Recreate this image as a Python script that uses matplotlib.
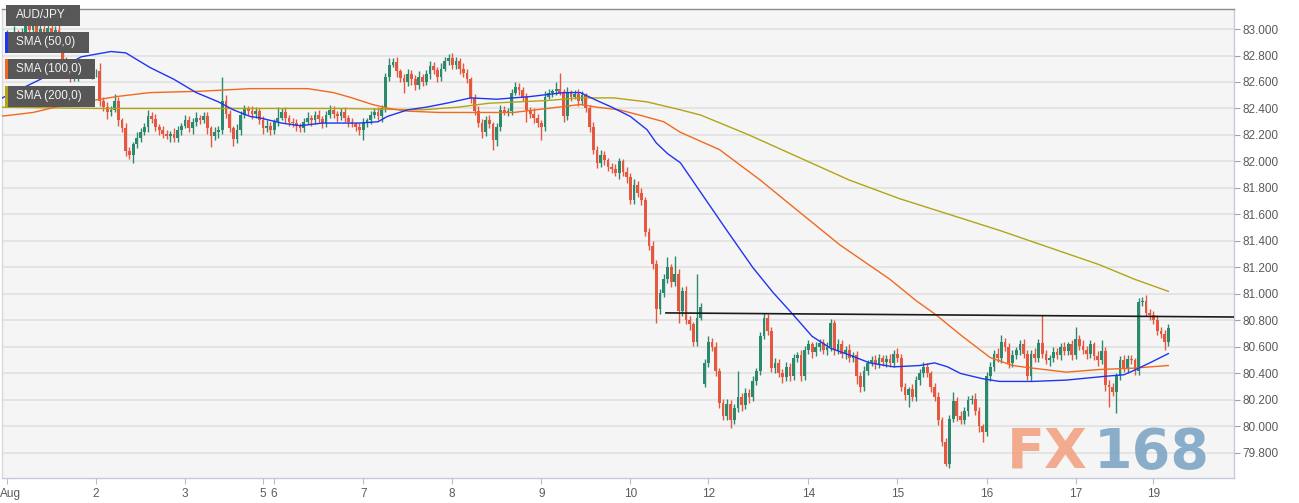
import numpy as np
import matplotlib
matplotlib.use("Agg")
import matplotlib.pyplot as plt
import matplotlib.transforms as mtransforms
from matplotlib.patches import Rectangle

# hourly AUD/JPY closes (one per candle)
closes = [
    82.95, 82.92, 82.97, 82.93, 82.98, 83.02, 82.99, 83.03, 82.98, 83.00,
    82.96, 83.01, 82.97, 82.99, 82.94, 82.76, 82.70, 82.64, 82.66, 82.68,
    82.72, 82.67, 82.65, 82.68, 82.68, 82.46, 82.41, 82.37, 82.39, 82.46,
    82.31, 82.25, 82.08, 82.05, 82.13, 82.18, 82.22, 82.26, 82.34, 82.32,
    82.26, 82.24, 82.21, 82.19, 82.21, 82.18, 82.24, 82.27, 82.31, 82.25,
    82.30, 82.33, 82.31, 82.34, 82.25, 82.19, 82.22, 82.24, 82.46, 82.36,
    82.25, 82.17, 82.24, 82.35, 82.40, 82.38, 82.36, 82.38, 82.31, 82.25,
    82.27, 82.24, 82.30, 82.33, 82.37, 82.33, 82.30, 82.29, 82.27, 82.25,
    82.30, 82.33, 82.31, 82.35, 82.32, 82.29, 82.35, 82.39, 82.36, 82.34,
    82.37, 82.33, 82.30, 82.28, 82.26, 82.24, 82.29, 82.31, 82.35, 82.37,
    82.34, 82.40, 82.64, 82.73, 82.75, 82.68, 82.63, 82.60, 82.66, 82.62,
    82.58, 82.64, 82.60, 82.66, 82.72, 82.69, 82.64, 82.70, 82.76, 82.78,
    82.73, 82.76, 82.70, 82.67, 82.62, 82.48, 82.38, 82.29, 82.22, 82.31,
    82.28, 82.16, 82.26, 82.39, 82.37, 82.38, 82.52, 82.56, 82.54, 82.49,
    82.39, 82.36, 82.33, 82.29, 82.26, 82.49, 82.52, 82.53, 82.55, 82.52,
    82.34, 82.52, 82.49, 82.51, 82.46, 82.50, 82.40, 82.26, 82.09, 81.99,
    82.05, 82.01, 81.96, 81.94, 81.91, 82.00, 81.92, 81.88, 81.71, 81.82,
    81.76, 81.71, 81.47, 81.36, 81.23, 80.89, 81.01, 81.11, 81.20, 81.09,
    81.15, 80.87, 81.02, 80.80, 80.77, 80.64, 80.82, 80.90, 80.48, 80.64,
    80.60, 80.42, 80.18, 80.08, 80.17, 80.05, 80.14, 80.22, 80.16, 80.25,
    80.22, 80.34, 80.42, 80.68, 80.82, 80.72, 80.44, 80.48, 80.40, 80.37,
    80.45, 80.38, 80.52, 80.54, 80.38, 80.58, 80.62, 80.56, 80.60, 80.63,
    80.58, 80.60, 80.78, 80.58, 80.62, 80.55, 80.58, 80.52, 80.54, 80.38,
    80.30, 80.42, 80.48, 80.50, 80.47, 80.52, 80.49, 80.51, 80.48, 80.55,
    80.52, 80.30, 80.24, 80.28, 80.22, 80.35, 80.40, 80.45, 80.40, 80.30,
    80.22, 80.05, 79.88, 79.72, 80.06, 80.19, 80.08, 80.05, 80.12, 80.20,
    80.21, 80.12, 80.00, 79.96, 80.38, 80.45, 80.55, 80.52, 80.64, 80.60,
    80.48, 80.54, 80.58, 80.62, 80.55, 80.38, 80.55, 80.52, 80.63, 80.55,
    80.50, 80.52, 80.56, 80.54, 80.60, 80.57, 80.62, 80.54, 80.66, 80.61,
    80.58, 80.55, 80.62, 80.53, 80.50, 80.57, 80.31, 80.30, 80.26, 80.38,
    80.50, 80.44, 80.51, 80.50, 80.42, 80.94, 80.95, 80.86, 80.84, 80.80,
    80.72, 80.70, 80.64, 80.74,
]
first_open = 82.90
gap_opens = {188: 80.32}  # Sunday open after the weekend gap

# wick lengths above / below the body, in pips (0.01)
upper_pips = [
    4, 3, 5, 2, 3, 4, 3, 2, 4, 3,  3, 4, 2, 3, 5, 4, 3, 6, 3, 2,
    4, 3, 3, 5, 2, 6, 3, 4, 3, 5,  3, 2, 4, 3, 2, 4, 3, 3, 5, 3,
    4, 2, 3, 3, 2, 4, 3, 2, 4, 3,  3, 4, 2, 3, 3, 2, 4, 3, 18, 4,
    3, 2, 4, 3, 3, 2, 4, 3, 2, 3,  4, 3, 2, 8, 3, 4, 2, 3, 3, 2,
    3, 4, 2, 3, 4, 2, 3, 4, 3, 2,  3, 4, 2, 3, 2, 3, 4, 2, 3, 3,
    4, 3, 3, 5, 3, 4, 2, 3, 4, 3,  3, 4, 2, 3, 4, 3, 2, 4, 3, 3,
    4, 3, 2, 4, 3, 2, 3, 4, 3, 3,  4, 2, 3, 4, 3, 2, 3, 4, 3, 2,
    3, 2, 4, 3, 2, 4, 3, 2, 5, 12, 3, 4, 2, 3, 4, 3, 2, 3, 4, 3,
    4, 3, 2, 3, 4, 3, 2, 4, 3, 5,  3, 4, 2, 3, 4, 3, 3, 4, 8, 3,
    14, 4, 3, 4, 3, 2, 33, 3, 3, 4, 3, 4, 2, 3, 4, 3, 3, 20, 3, 4,
    3, 4, 2, 3, 4, 3, 3, 4, 3, 3,  4, 3, 3, 2, 4, 3, 3, 2, 4, 3,
    3, 4, 3, 2, 4, 3, 3, 4, 2, 3,  3, 4, 2, 3, 4, 3, 2, 3, 4, 3,
    4, 3, 3, 2, 4, 3, 3, 4, 3, 2,  3, 4, 2, 3, 3, 7, 3, 4, 3, 3,
    3, 4, 3, 2, 3, 4, 3, 4, 5, 3,  3, 4, 2, 3, 4, 3, 3, 4, 3, 21,
    3, 2, 4, 3, 3, 4, 2, 3, 9, 3,  4, 3, 3, 2, 4, 8, 3, 4, 3, 2,
    3, 4, 3, 3, 2, 3, 3, 4, 3, 3,  4, 3, 3, 3,
]
lower_pips = [
    3, 4, 2, 5, 3, 2, 4, 3, 3, 4,  4, 2, 3, 4, 3, 5, 3, 4, 3, 5,
    3, 4, 2, 3, 4, 4, 3, 5, 3, 2,  4, 3, 4, 3, 6, 3, 3, 2, 4, 3,
    3, 4, 3, 2, 4, 3, 3, 4, 2, 3,  4, 3, 3, 2, 4, 8, 3, 4, 3, 3,
    3, 5, 3, 4, 2, 3, 4, 3, 3, 4,  3, 4, 3, 3, 2, 4, 3, 3, 4, 3,
    3, 2, 4, 3, 3, 4, 3, 2, 3, 4,  3, 3, 4, 2, 3, 4, 8, 3, 3, 2,
    3, 4, 3, 3, 2, 4, 3, 8, 3, 4,  4, 3, 3, 2, 4, 3, 4, 3, 2, 3,
    3, 3, 4, 3, 3, 4, 3, 3, 4, 3,  3, 7, 4, 3, 2, 3, 3, 2, 4, 3,
    9, 3, 4, 3, 10, 3, 2, 3, 3, 2, 4, 3, 3, 2, 4, 3, 3, 4, 3, 4,
    3, 4, 3, 3, 2, 4, 3, 4, 3, 3,  3, 4, 3, 3, 4, 11, 4, 3, 3, 4,
    3, 9, 4, 3, 4, 3, 3, 2, 2, 3,  3, 4, 4, 3, 3, 6, 3, 3, 4, 3,
    4, 3, 3, 3, 2, 3, 3, 4, 3, 4,  3, 4, 3, 3, 4, 3, 3, 4, 3, 3,
    3, 4, 3, 4, 3, 3, 4, 3, 3, 6,  4, 3, 3, 2, 4, 3, 3, 4, 3, 3,
    3, 3, 4, 9, 3, 3, 4, 3, 3, 4,  3, 4, 3, 2, 3, 3, 4, 3, 3, 4,
    3, 3, 4, 8, 3, 4, 3, 3, 4, 3,  4, 3, 3, 4, 3, 3, 4, 3, 3, 3,
    3, 4, 3, 3, 4, 3, 3, 4, 3, 3,  3, 4, 3, 3, 4, 3, 4, 15, 3, 16,
    3, 3, 4, 3, 3, 3, 3, 3, 4, 3,  3, 3, 6, 3,
]

# moving averages, read at points along each curve (candle index, price)
sma50_idx = [-2, 9, 20, 28, 32, 38.5, 45, 51, 57, 61, 65.5, 68, 74, 79, 85, 95, 100,
             102.5, 108, 113, 118.5, 125, 132, 141, 150, 154.5, 159, 163, 168, 172.5,
             175, 178, 181.5, 194, 201, 206.5, 212, 217, 222, 227, 232.5, 239, 246,
             250, 253.5, 257, 263, 267.5, 276.5, 285.5, 296.5, 301, 303.5, 308, 313]
sma50_val = [82.47, 82.62, 82.79, 82.83, 82.82, 82.71, 82.62, 82.52, 82.45, 82.39,
             82.34, 82.33, 82.29, 82.27, 82.29, 82.29, 82.30, 82.34, 82.39, 82.41,
             82.44, 82.48, 82.47, 82.49, 82.52, 82.52, 82.46, 82.41, 82.34, 82.24,
             82.14, 82.06, 81.99, 81.48, 81.20, 81.01, 80.84, 80.68, 80.59, 80.54,
             80.48, 80.45, 80.46, 80.48, 80.45, 80.40, 80.36, 80.34, 80.34, 80.35,
             80.38, 80.39, 80.42, 80.48, 80.55]
sma100_idx = [-2, 7, 16, 23, 29.5, 38.5, 52, 65.5, 74.5, 81, 88, 93, 98.5, 103, 108,
              116.5, 130, 136.5, 145.5, 154.5, 159, 165, 170.5, 177, 181.5, 192, 203,
              213.5, 224.5, 238, 245, 250.5, 257.5, 265, 271, 276.5, 285.5, 294.5,
              303.5, 313]
sma100_val = [82.34, 82.37, 82.43, 82.46, 82.49, 82.52, 82.53, 82.55, 82.55, 82.55,
              82.52, 82.48, 82.43, 82.40, 82.38, 82.37, 82.37, 82.37, 82.40, 82.43,
              82.41, 82.39, 82.35, 82.30, 82.22, 82.09, 81.86, 81.62, 81.37, 81.11,
              80.95, 80.84, 80.68, 80.52, 80.46, 80.44, 80.41, 80.43, 80.44, 80.46]
sma200_idx = [-2, 25, 52, 74.5, 90, 112, 121.5, 130, 145.5, 154.5, 163.5, 172.5, 181.5,
              187, 200, 213.5, 227, 240.5, 254, 267.5, 281, 294.5, 304, 313]
sma200_val = [82.41, 82.40, 82.40, 82.40, 82.40, 82.39, 82.41, 82.44, 82.46, 82.48,
              82.48, 82.45, 82.39, 82.35, 82.20, 82.03, 81.86, 81.72, 81.60, 81.48,
              81.35, 81.22, 81.11, 81.02]

# hand-drawn resistance line
res_idx = [177.6, 331]
res_val = [80.857, 80.826]

day_ticks = [0, 24, 48, 69, 72, 96, 120, 144, 168, 189, 216, 240, 264, 288, 309]
day_labels = ["Aug", "2", "3", "5", "6", "7", "8", "9", "10", "12", "14", "15", "16", "17", "19"]
price_ticks = np.round(np.arange(79.8, 83.01, 0.2), 1)

GREEN = "#2b8a6e"
RED = "#e5583f"
C50 = "#1f35f0"
C100 = "#f2691e"
C200 = "#b3a415"

plt.rcParams["font.family"] = ["Liberation Sans", "DejaVu Sans"]

c = np.array(closes)
o = np.array([first_open] + closes[:-1])
for k, v in gap_opens.items():
    o[k] = v
hi = np.maximum(o, c) + np.array(upper_pips) / 100
lo = np.minimum(o, c) - np.array(lower_pips) / 100
idx = np.arange(len(c))
col = np.where(c >= o, GREEN, RED)

W, H = 1299, 503
fig = plt.figure(figsize=(W / 100, H / 100), dpi=100)
fig.patch.set_facecolor("white")
ax = fig.add_axes([2 / W, (H - 478) / H, 1232 / W, 469 / H])
ax.set_facecolor("#f5f5f5")

ax.vlines(idx, lo, hi, colors=col, lw=1, zorder=2)
ax.bar(idx, np.maximum(np.abs(c - o), 0.006), bottom=np.minimum(o, c), width=0.74,
       color=col, linewidth=0, zorder=3)

ax.plot(sma200_idx, sma200_val, color=C200, lw=1, zorder=4)
ax.plot(sma100_idx, sma100_val, color=C100, lw=1, zorder=4)
ax.plot(sma50_idx, sma50_val, color=C50, lw=1, zorder=4)
ax.plot(res_idx, res_val, color="#1a1a1a", lw=1.2, zorder=5)

ax.set_xlim(-1.35, 330.7)
ax.set_ylim(79.611, 83.151)

ax.set_yticks(price_ticks)
ax.set_yticklabels([f"{v:.3f}" for v in price_ticks])
ax.yaxis.tick_right()
ax.yaxis.grid(True, color="#e3e3e3", lw=1.3)
ax.set_axisbelow(True)
ax.tick_params(axis="y", length=4, color="#a0a0a0", labelcolor="#5a5a5a",
               labelsize=8.5, pad=2)

ax.set_xticks(day_ticks)
ax.set_xticklabels(day_labels)
ax.tick_params(axis="x", length=4, color="#b8bccf", labelcolor="#5a5a5a",
               labelsize=8.5, pad=3)
first = ax.get_xticklabels()[0]
first.set_ha("left")
first.set_transform(first.get_transform() +
                    mtransforms.ScaledTranslation(-0.07, 0, fig.dpi_scale_trans))

ax.spines["top"].set_color("#8c8c8c")
ax.spines["right"].set_color("#c6c9dc")
ax.spines["bottom"].set_color("#c6c9dc")
ax.spines["left"].set_color("#d6d8e4")
for s in ax.spines.values():
    s.set_linewidth(1)


def fx(x):
    return x / W


def fy(y):
    return (H - y) / H


# legend boxes in the top-left corner
legend = [("AUD/JPY", None, 80, 5, 26),
          ("SMA (50,0)", C50, 89, 32, 53),
          ("SMA (100,0)", C100, 95, 59, 79),
          ("SMA (200,0)", C200, 95, 86, 107)]
for label, color, right, top, bottom in legend:
    fig.add_artist(Rectangle((fx(6), fy(bottom)), fx(right - 6), (bottom - top) / H,
                             transform=fig.transFigure, facecolor="#575757",
                             edgecolor="none", zorder=10))
    if color:
        fig.add_artist(Rectangle((fx(5), fy(bottom)), fx(3), (bottom - top) / H,
                                 transform=fig.transFigure, facecolor=color,
                                 edgecolor="none", zorder=11))
    fig.text(fx(16), fy((top + bottom) / 2), label, color="#f2f2f2", fontsize=8.5,
             va="center", ha="left", zorder=12)

# watermark
fig.text(fx(1047), fy(453), "FX", color="#f2a383", fontsize=40, fontweight="bold",
         family="DejaVu Sans", ha="center", va="center", alpha=0.9, zorder=9)
fig.text(fx(1152), fy(453), "168", color="#7ea6c5", fontsize=40, fontweight="bold",
         family="DejaVu Sans", ha="center", va="center", alpha=0.9, zorder=9)

fig.savefig("out.png", dpi=100)
